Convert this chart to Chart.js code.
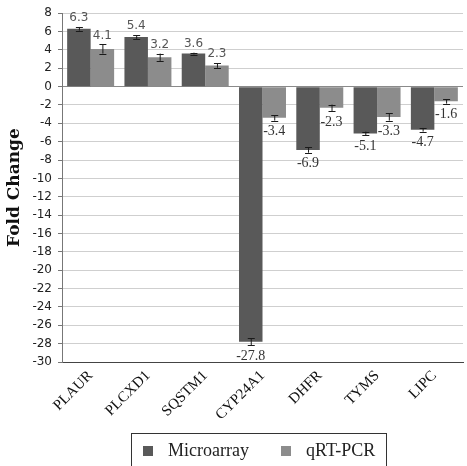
<!DOCTYPE html>
<html>
<head>
<meta charset="utf-8">
<script src="https://cdn.jsdelivr.net/npm/chart.js@4.4.1/dist/chart.umd.min.js"></script>
<style>
  html, body { margin: 0; padding: 0; background: #fff; }
  #wrap { width: 467px; height: 466px; position: relative; }
</style>
</head>
<body>
<div id="wrap"><canvas id="c" width="467" height="466"></canvas></div>
<script>
const categories = ['PLAUR', 'PLCXD1', 'SQSTM1', 'CYP24A1', 'DHFR', 'TYMS', 'LIPC'];
const seriesNames = ['Microarray', 'qRT-PCR'];
const microarray = [6.3, 5.4, 3.6, -27.8, -6.9, -5.1, -4.7];
const qrtpcr = [4.1, 3.2, 2.3, -3.4, -2.3, -3.3, -1.6];
const microarrayErr = [0.2, 0.2, 0.1, 0.4, 0.3, 0.2, 0.2];
const qrtpcrErr = [0.5, 0.4, 0.25, 0.3, 0.35, 0.4, 0.25];
const yMin = -30, yMax = 8, yStep = 2;

const DARK = '#595959';
const LIGHT = '#8c8c8c';

const errorBarPlugin = {
  id: 'errorBars',
  afterDatasetsDraw(chart) {
    const ctx = chart.ctx;
    const y = chart.scales.y;
    chart.data.datasets.forEach((ds, di) => {
      const meta = chart.getDatasetMeta(di);
      meta.data.forEach((bar, i) => {
        const v = ds.data[i];
        const e = ds.errors[i];
        const yTop = y.getPixelForValue(v + e);
        const yBot = y.getPixelForValue(v - e);
        const x = bar.x;
        ctx.save();
        ctx.strokeStyle = '#1a1a1a';
        ctx.lineWidth = 1;
        ctx.beginPath();
        ctx.moveTo(x + 0.5, yTop);
        ctx.lineTo(x + 0.5, yBot);
        ctx.moveTo(x - 3, Math.round(yTop) + 0.5);
        ctx.lineTo(x + 4, Math.round(yTop) + 0.5);
        ctx.moveTo(x - 3, Math.round(yBot) + 0.5);
        ctx.lineTo(x + 4, Math.round(yBot) + 0.5);
        ctx.stroke();
        if (v >= 0) {
          ctx.font = '12px "DejaVu Sans", Verdana, sans-serif';
          ctx.fillStyle = '#555';
          ctx.textAlign = 'center';
          ctx.textBaseline = 'bottom';
          ctx.fillText(v.toFixed(1), x, yTop - 3);
        } else {
          ctx.font = '14px "Liberation Serif", "Times New Roman", serif';
          ctx.fillStyle = '#333';
          ctx.textAlign = 'center';
          ctx.textBaseline = 'top';
          ctx.fillText(v.toFixed(1), x, yBot + 4);
        }
        ctx.restore();
      });
    });
  }
};

const legendBoxPlugin = {
  id: 'legendBox',
  afterDraw(chart) {
    const ctx = chart.ctx;
    ctx.save();
    ctx.strokeStyle = '#333';
    ctx.lineWidth = 1;
    ctx.strokeRect(131.5, 433.5, 255, 40);
    const items = [
      { name: seriesNames[0], color: DARK, sq: 143, tx: 168 },
      { name: seriesNames[1], color: LIGHT, sq: 281, tx: 306 }
    ];
    ctx.font = '18px "Liberation Serif", "Times New Roman", serif';
    ctx.textBaseline = 'middle';
    ctx.textAlign = 'left';
    items.forEach(it => {
      ctx.fillStyle = it.color;
      ctx.fillRect(it.sq, 446, 10, 10);
      ctx.fillStyle = '#222';
      ctx.fillText(it.name, it.tx, 451);
    });
    ctx.restore();
  }
};

new Chart(document.getElementById('c'), {
  type: 'bar',
  data: {
    labels: categories,
    datasets: [
      { label: seriesNames[0], data: microarray, errors: microarrayErr, backgroundColor: DARK, borderWidth: 0 },
      { label: seriesNames[1], data: qrtpcr, errors: qrtpcrErr, backgroundColor: LIGHT, borderWidth: 0 }
    ]
  },
  options: {
    responsive: false,
    animation: false,
    devicePixelRatio: 1,
    layout: { padding: { top: 7, right: 4, left: 0, bottom: 0 } },
    plugins: {
      legend: { display: false },
      tooltip: { enabled: false }
    },
    datasets: {
      bar: { categoryPercentage: 0.82, barPercentage: 1.0 }
    },
    scales: {
      x: {
        grid: { display: false, drawTicks: false },
        border: { display: true, color: '#444', width: 1 },
        ticks: {
          minRotation: 45,
          maxRotation: 45,
          autoSkip: false,
          padding: 5,
          color: '#111',
          font: { family: '"Liberation Serif", "Times New Roman", serif', size: 15 }
        },
        afterFit(s) { s.height = 104; }
      },
      y: {
        min: yMin,
        max: yMax,
        ticks: {
          stepSize: yStep,
          color: '#222',
          padding: 6,
          font: { family: '"DejaVu Sans", Verdana, sans-serif', size: 12 }
        },
        grid: {
          color: ctx => (ctx.tick && ctx.tick.value === 0) ? '#8a8a8a' : '#cfcfcf',
          lineWidth: 1,
          tickLength: 4,
          tickColor: '#777'
        },
        border: { display: true, color: '#777', width: 1 },
        title: {
          display: true,
          text: 'Fold Change',
          color: '#111',
          padding: { top: 4, bottom: 0 },
          font: { family: '"DejaVu Serif", "Liberation Serif", serif', size: 17, weight: 'bold' }
        },
        afterFit(s) { s.width = 62; }
      }
    }
  },
  plugins: [errorBarPlugin, legendBoxPlugin]
});
</script>
</body>
</html>
